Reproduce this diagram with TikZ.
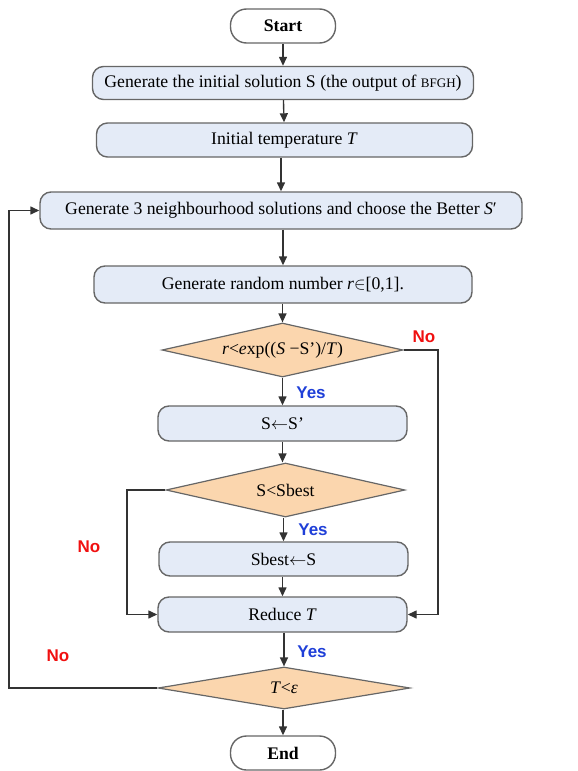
\documentclass[tikz,border=0pt]{standalone}
\usepackage{fontspec}
\setmainfont{Liberation Serif}
\newfontfamily\lblfont{Liberation Sans}
\usetikzlibrary{shapes.geometric,arrows.meta}
\definecolor{boxfill}{HTML}{E4EBF7}
\definecolor{decfill}{HTML}{FBD6AE}
\definecolor{edgegray}{HTML}{666666}
\definecolor{arrowgray}{HTML}{333333}
\definecolor{yesblue}{HTML}{1F3FD8}
\definecolor{nored}{HTML}{F01010}
\tikzset{
  procbox/.style={draw=edgegray, line width=1.4pt, fill=boxfill, rounded corners=11pt, inner sep=0pt, font=\fontsize{17.7}{20}\selectfont},
  termbox/.style={draw=edgegray, line width=1.4pt, fill=white, rounded corners=16pt, inner sep=0pt, minimum width=105pt, minimum height=34pt, font=\fontsize{17.7}{20}\selectfont\bfseries},
  decbox/.style={draw=edgegray, line width=1.2pt, fill=decfill, diamond, aspect=4.5, inner sep=0pt, font=\fontsize{17.7}{20}\selectfont},
  flow/.style={draw=arrowgray, line width=1.4pt, -{Triangle[length=9pt,width=8pt]}},
  yeslbl/.style={text=yesblue, font=\lblfont\fontsize{17}{20}\selectfont\bfseries},
  nolbl/.style={text=nored, font=\lblfont\fontsize{17}{20}\selectfont\bfseries},
}
\begin{document}
\begin{tikzpicture}[x=1pt,y=-1pt]
\useasboundingbox (0,0) rectangle (578,771);
\node[termbox] (start) at (283,26) {Start};
\node[procbox, minimum width=381pt, minimum height=33pt] (init) at (283,83) {Generate the initial solution S (the output of {\fontsize{13}{14}\selectfont BFGH})};
\node[procbox, minimum width=376pt, minimum height=34pt] (temp) at (284.5,140) {Initial temperature \textit{T}};
\node[procbox, minimum width=482pt, minimum height=37pt] (gen) at (281,210.5) {Generate 3 neighbourhood solutions and choose the Better \textit{S}′};
\node[procbox, minimum width=378pt, minimum height=37pt] (rand) at (283,284.5) {Generate random number \textit{r}$\in$[0,1].};
\node[decbox, minimum width=241pt, minimum height=54pt] (d1) at (282.5,350) {\textit{r}<\textit{e}xp((\textit{S} −S’)/\textit{T})};
\node[procbox, minimum width=249pt, minimum height=35pt] (ssp) at (282.5,423.5) {S$\leftarrow$S’};
\node[decbox, minimum width=239pt, minimum height=54pt] (d2) at (285.5,490) {S<Sbest};
\node[procbox, minimum width=249pt, minimum height=34pt] (sbest) at (283.5,559) {Sbest$\leftarrow$S};
\node[procbox, minimum width=249pt, minimum height=35pt] (reduce) at (282.5,614.5) {Reduce \textit{T}};
\node[decbox, aspect=6, minimum width=252pt, minimum height=42pt] (d3) at (284,688) {\textit{T}<\textit{ε}};
\node[termbox] (end) at (283,753) {End};

\draw[flow] (start) -- (init);
\draw[flow] (init) -- (temp);
\draw[flow] (temp.south -| gen.north) -- (gen);
\draw[flow] (gen.south -| rand.north) -- (rand);
\draw[flow] (rand.south -| d1.north) -- (d1);
\draw[flow] (d1) -- (ssp);
\draw[flow] (ssp) -- (ssp.south |- d2.north);
\draw[flow] (d2.south -| sbest.north) -- (sbest);
\draw[flow] (sbest.south -| reduce.north) -- (reduce);
\draw[flow] (reduce.south -| d3.north) -- (d3.north);
\draw[flow] (d3.south -| end.north) -- (end);

\coordinate (rr) at (438,350);
\coordinate (ll) at (127,490);
\coordinate (lo) at (9,688);
\draw[flow] (d1.east) -- (rr) |- (reduce.east);
\draw[flow] (d2.west) -- (ll) |- (reduce.west);
\draw[flow] (d3.west) -- (lo) |- (gen.west);

\node[nolbl] (no1) at (424,337) {No};
\node[yeslbl] (yes1) at (311,393) {Yes};
\node[yeslbl] (yes2) at (313,530) {Yes};
\node[nolbl] (no2) at (89,547) {No};
\node[yeslbl] (yes3) at (312,652) {Yes};
\node[nolbl] (no3) at (58,656) {No};
\end{tikzpicture}
\end{document}
